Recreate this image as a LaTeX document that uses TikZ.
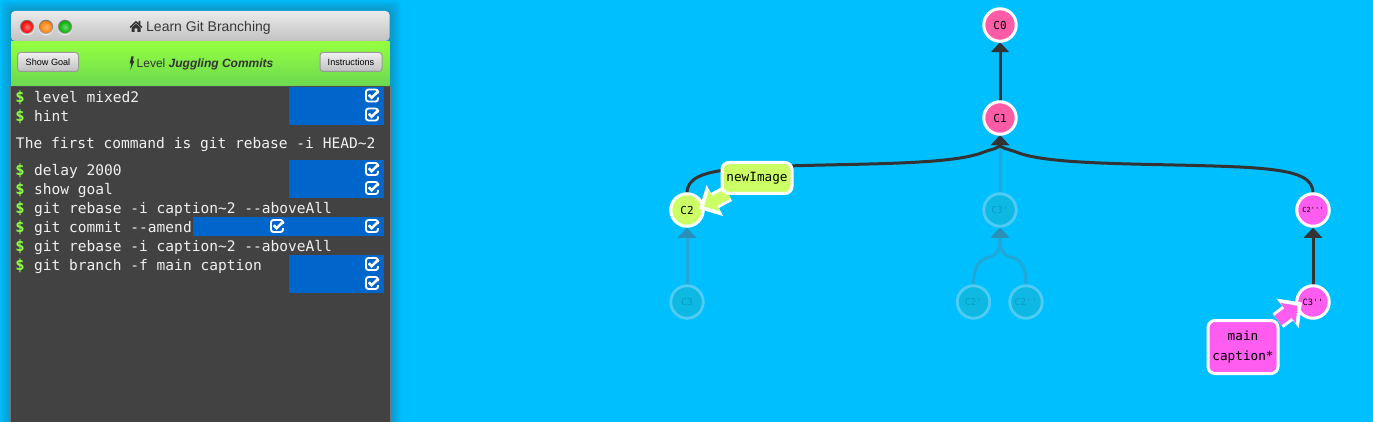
\documentclass[tikz,border=0pt]{standalone}
\usepackage{fontspec}
\setmainfont{Liberation Sans}
\newfontfamily\cmono{DejaVu Sans Mono}
\usetikzlibrary{arrows.meta,backgrounds}
\definecolor{skybg}{HTML}{00BFFF}
\definecolor{pinkc}{HTML}{FF5CA8}
\definecolor{limec}{HTML}{CCFF66}
\definecolor{magc}{HTML}{FF5CF0}
\definecolor{termc}{HTML}{424242}
\definecolor{rowc}{HTML}{0066CC}
\definecolor{edgec}{HTML}{333333}
\definecolor{fadefill}{HTML}{0DB9E2}
\definecolor{fadeline}{HTML}{50CCF4}
\definecolor{fadetext}{HTML}{0A9CC4}
\definecolor{fadeedge}{HTML}{22A8D6}
\definecolor{fadehead}{HTML}{2A90B8}
\definecolor{dollarc}{HTML}{8CFF40}
\definecolor{termtext}{HTML}{F0F0F0}
\definecolor{bartop}{HTML}{94FF40}
\definecolor{barbot}{HTML}{6CD850}
\pgfdeclarelayer{base}
\pgfdeclarelayer{edges}
\pgfdeclarelayer{tagarrows}
\pgfdeclarelayer{tags}
\pgfsetlayers{base,edges,main,tagarrows,tags}
\tikzset{
  commit/.style={circle,minimum size=32.5pt,inner sep=0pt,outer sep=0pt,draw=white,line width=3pt,text=black,font=\cmono\fontsize{#1}{#1}\selectfont},
  commit/.default=11,
  fadednode/.style={circle,minimum size=32.5pt,inner sep=0pt,outer sep=0pt,draw=fadeline,fill=fadefill,line width=2.8pt,text=fadetext,font=\cmono\fontsize{9.5}{9.5}\selectfont},
  solidedge/.style={draw=edgec,line width=3pt,-{Triangle[length=10pt,width=18pt]}},
  fadededge/.style={draw=fadeedge,line width=3pt,-{Triangle[length=10pt,width=18pt,fadehead]}},
  branchtag/.style={draw=white,line width=3pt,rounded corners=7pt,inner sep=0pt,outer sep=0pt,align=center,text=black,font=\cmono\fontsize{12.7}{20}\selectfont},
  term/.style={anchor=base west,inner sep=0pt,outer sep=0pt,text=termtext,font=\cmono\fontsize{14.56}{14.56}\selectfont},
  dollar/.style={anchor=base west,inner sep=0pt,outer sep=0pt,text=dollarc,font=\cmono\bfseries\fontsize{15.5}{15.5}\selectfont},
  btn/.style={draw=black!40,line width=1pt,rounded corners=3pt,top color=black!6,bottom color=black!25,inner sep=0pt,outer sep=0pt,text=black,font=\fontsize{9.1}{9.1}\selectfont},
}
\newcommand{\termline}[3]{\node[dollar] (d#1) at (15.5,#2) {\$};\node[term] (t#1) at (34,#2) {#3};}
\newcommand{\checkicon}[2]{%
  \draw[white,line width=1.9pt,rounded corners=2.5pt] (#1+6,#2-2) -- (#1+6,#2-6) -- (#1-6,#2-6) -- (#1-6,#2+6) -- (#1+6,#2+6) -- (#1+6,#2+2);
  \draw[white,line width=2.6pt] (#1-3.2,#2-0.8) -- (#1-0.4,#2+2.2) -- (#1+6.6,#2-4.6);}
\newcommand{\tlight}[3]{%
  \fill[white,opacity=.7] (#1,#2+1) circle (7.4);
  \shade[top color=black!55,bottom color=black!30] (#1,#2) circle (7.2);
  \shade[inner color=#3!55!white,outer color=#3] (#1,#2) circle (6);}
\begin{document}
\begin{tikzpicture}[x=1pt,y=-1pt]
\useasboundingbox (0,0) rectangle (1373,422);
\begin{pgfonlayer}{base}
\fill[skybg] (0,0) rectangle (1373,422);
\begin{scope}
\clip (0,0) rectangle (1373,422);
\foreach \d in {11,10,...,1}{
  \fill[black!80,opacity=.022,rounded corners=5pt] (11-\d,11-\d) rectangle (390+\d,440);
}
\end{scope}
\end{pgfonlayer}
% title bar
\shade[top color=black!8,bottom color=black!24,rounded corners=4pt] (11,41) -- (11,11) -- (389.5,11) -- (389.5,41) -- cycle;
\fill[black!45] (11,41) rectangle (389.5,42);
\tlight{27}{27}{red}
\tlight{46}{27}{orange}
\tlight{65}{27}{green!70!black}
% house icon
\fill[edgec] (129.5,27) -- (136,20.8) -- (138.6,23.3) -- (138.6,21) -- (140.3,21) -- (140.3,25) -- (142.5,27) -- (141.5,28) -- (136,22.8) -- (130.5,28) -- cycle;
\fill[edgec] (131.5,27.6) -- (136,23.6) -- (140.5,27.6) -- (140.5,32) -- (137.4,32) -- (137.4,28.5) -- (134.6,28.5) -- (134.6,32) -- (131.5,32) -- cycle;
\node[anchor=base west,inner sep=0pt,text=black!78,font=\fontsize{14}{14}\selectfont] (title) at (146,31.5) {Learn Git Branching};
% green bar
\shade[top color=bartop,bottom color=barbot] (11,42) rectangle (389.5,86);
\node[btn,minimum width=61pt,minimum height=19pt] (goal) at (48,62) {Show Goal};
\node[btn,minimum width=62pt,minimum height=19pt] (instr) at (351,62) {Instructions};
\fill[edgec] (131.4,56.5) -- (133.6,56.5) -- (132.9,61) -- (134.3,61) -- (130.4,70) -- (131.2,63.5) -- (129.6,63.5) -- cycle;
\node[anchor=base west,inner sep=0pt,text=black!80,font=\fontsize{12}{12}\selectfont] (lvl) at (136.5,68) {Level \textbf{\textit{Juggling Commits}}};
% terminal
\fill[termc] (11,86) rectangle (390,422);
\draw[black!55,line width=1pt] (10.5,86) -- (10.5,422);
\draw[black!55,line width=1pt] (390,86) -- (390,422);
\draw[black!70,line width=.8pt] (11,86) -- (390,86);
\fill[rowc] (289,87.3) rectangle (384,125);
\fill[rowc] (289,160) rectangle (384,198);
\fill[rowc] (193,217) rectangle (384,236);
\fill[rowc] (289,255) rectangle (384,293);
\checkicon{372}{95.5}
\checkicon{372}{114.5}
\checkicon{372}{169}
\checkicon{372}{188}
\checkicon{277}{226}
\checkicon{372}{226}
\checkicon{372}{264}
\checkicon{372}{283}
\termline{a}{102.8}{level mixed2}
\termline{b}{121.8}{hint}
\node[term] (first) at (16,148.8) {The first command is git rebase -i HEAD\textasciitilde2};
\termline{c}{175.8}{delay 2000}
\termline{e}{194.8}{show goal}
\termline{f}{213.8}{git rebase -i caption\textasciitilde2 --aboveAll}
\termline{g}{232.8}{git commit --amend}
\termline{h}{251.8}{git rebase -i caption\textasciitilde2 --aboveAll}
\termline{i}{270.8}{git branch -f main caption}
% commits
\node[commit,fill=pinkc] (C0) at (1000,25) {C0};
\node[commit,fill=pinkc] (C1) at (1000,118) {C1};
\node[commit,fill=limec] (C2) at (687,210) {C2};
\node[fadednode] (C3) at (687,302) {C3};
\node[fadednode] (C3p) at (1000,210) {C3'};
\node[fadednode] (C2p) at (973.5,302) {C2'};
\node[fadednode] (C2pp) at (1026,302) {C2''};
\node[commit=7,fill=magc] (C2ppp) at (1313,210) {C2'''};
\node[commit=8.6,fill=magc] (C3pp) at (1313,302) {C3''};
% edges
\begin{pgfonlayer}{edges}
\draw[fadededge,shorten >=1pt] (C3p) -- (C1);
\draw[fadededge,shorten >=1.5pt] (C3) -- (C2);
\draw[fadededge,shorten >=1.5pt] (C2p.north) .. controls (973.5,268) and (978,260) .. (988,257.5) .. controls (996,255.5) and (1000,252) .. (C3p.south);
\draw[fadededge,shorten >=1.5pt] (C2pp.north) .. controls (1026,268) and (1022,260) .. (1012,257.5) .. controls (1004,255.5) and (1000,252) .. (C3p.south);
\draw[solidedge,shorten >=1pt] (C1) -- (C0);
\draw[solidedge,shorten >=1.5pt] (C3pp) -- (C2ppp);
\draw[solidedge,shorten >=1pt] (C2.north) .. controls (687,176) and (705,170) .. (760,167) .. controls (850,163) and (950,166) .. (984,152) .. controls (992,149) and (1000,148) .. (C1.south);
\draw[solidedge,shorten >=1pt] (C2ppp.north) .. controls (1313,176) and (1295,170) .. (1240,167) .. controls (1150,163) and (1050,166) .. (1016,152) .. controls (1008,149) and (1000,148) .. (C1.south);
\end{pgfonlayer}
% branch tags
\begin{pgfonlayer}{tags}
\node[branchtag,fill=limec,minimum width=70pt,minimum height=31pt] (tagnew) at (757,178) {newImage};
\node[branchtag,fill=magc,minimum width=70pt,minimum height=53pt] (tagmain) at (1243,347) {main\\caption*};
\end{pgfonlayer}
\coordinate (tipa) at (699,209);
\coordinate (tipai) at (704,206.5);
\coordinate (tipb) at (1302,302.5);
\coordinate (tipbi) at (1297.5,305.8);
\begin{pgfonlayer}{tagarrows}
\draw[white,line width=17pt,-{Triangle[length=18pt,width=34pt]}] (tagnew) -- (tipa);
\draw[limec,line width=11pt,-{Triangle[length=12pt,width=23pt]}] (tagnew) -- (tipai);
\draw[white,line width=18pt,-{Triangle[length=18pt,width=36pt]}] (tagmain) -- (tipb);
\draw[magc,line width=12pt,-{Triangle[length=12pt,width=25pt]}] (tagmain) -- (tipbi);
\end{pgfonlayer}
\end{tikzpicture}
\end{document}
